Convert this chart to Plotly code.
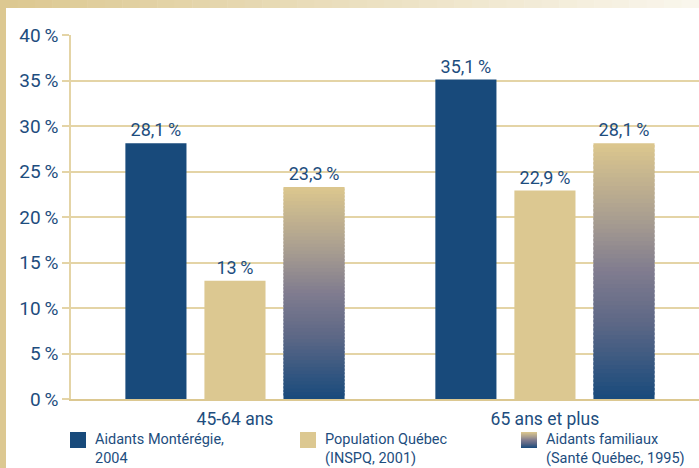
import plotly.graph_objects as go

# ---- data ----
categories = ["45-64 ans", "65 ans et plus"]
aidants_monteregie = [28.1, 35.1]
population_quebec = [13.0, 22.9]
aidants_familiaux = [23.3, 28.1]
series_names = ["Aidants Montérégie,<br>2004",
                "Population Québec<br>(INSPQ, 2001)",
                "Aidants familiaux<br>(Santé Québec, 1995)"]
y_ticks = [0, 5, 10, 15, 20, 25, 30, 35, 40]

# ---- styles ----
BLUE = "#184a7b"
TAN = "#dcc891"
TXT = "#1d4d7e"
GRID = "#e4d4a6"
FONT = "Roboto"

W, H = 699, 468
ML, MR, MT, MB = 71, 0, 35, 69
PW, PH = W - ML - MR, H - MT - MB


def px_x(px):
    return (px - ML) / PW


def px_y(py):
    return (H - MB - py) / PH


def lab(v):
    s = ("%.1f" % v).replace(".", ",")
    if s.endswith(",0"):
        s = s[:-2]
    return s + "\u2009%"


def lerp(c1, c2, t):
    return tuple(round(a + (b - a) * t) for a, b in zip(c1, c2))


# gradient stops (fraction from bottom -> color)
stops = [(0.0, (24, 74, 124)), (0.3, (94, 104, 134)), (0.5, (128, 124, 143)),
         (0.7, (168, 157, 144)), (1.0, (220, 199, 142))]


def grad(t):
    for (t0, c0), (t1, c1) in zip(stops[:-1], stops[1:]):
        if t <= t1:
            return "rgb(%d,%d,%d)" % lerp(c0, c1, (t - t0) / (t1 - t0))
    return "rgb(%d,%d,%d)" % stops[-1][1]


fig = go.Figure()
fig.add_bar(x=categories, y=aidants_monteregie, offsetgroup="a",
            marker=dict(color=BLUE, line=dict(width=0)),
            text=[lab(v) for v in aidants_monteregie], textposition="outside",
            cliponaxis=False, showlegend=False)
fig.add_bar(x=categories, y=population_quebec, offsetgroup="b",
            marker=dict(color=TAN, line=dict(width=0)),
            text=[lab(v) for v in population_quebec], textposition="outside",
            cliponaxis=False, showlegend=False)
N = 60
for i in range(N):
    last = i == N - 1
    fig.add_bar(x=categories,
                base=[v * i / N for v in aidants_familiaux],
                y=[v / N * (1.0 if last else 1.6) for v in aidants_familiaux],
                offsetgroup="c",
                marker=dict(color=grad((i + 0.5) / N), line=dict(width=0)),
                text=[lab(v) for v in aidants_familiaux] if last else None,
                textposition="outside" if last else "none",
                cliponaxis=False, showlegend=False)

fig.update_traces(textfont=dict(color=TXT, size=18, family=FONT))

shapes = []
# left strip
shapes.append(dict(type="rect", xref="paper", yref="paper",
                   x0=px_x(0), x1=px_x(6), y0=px_y(H), y1=px_y(0),
                   fillcolor=TAN, line=dict(width=0), layer="below"))
# top gradient strip
NS = 40
for k in range(NS):
    t = k / NS
    c = lerp((220, 200, 145), (250, 247, 238), t)
    shapes.append(dict(type="rect", xref="paper", yref="paper",
                       x0=px_x(W * k / NS), x1=px_x(W * (k + 1) / NS + 0.5),
                       y0=px_y(8), y1=px_y(0),
                       fillcolor="rgb(%d,%d,%d)" % c, line=dict(width=0), layer="below"))

# legend
leg_sq_x = [70, 300, 521]
leg_colors = [BLUE, TAN, None]
annotations = []
for j, (sx, col, name) in enumerate(zip(leg_sq_x, leg_colors, series_names)):
    if col is not None:
        shapes.append(dict(type="rect", xref="paper", yref="paper",
                           x0=px_x(sx), x1=px_x(sx + 16), y0=px_y(448), y1=px_y(432),
                           fillcolor=col, line=dict(width=0)))
    else:
        M = 16
        for k in range(M):
            shapes.append(dict(type="rect", xref="paper", yref="paper",
                               x0=px_x(sx), x1=px_x(sx + 16),
                               y0=px_y(448 - k), y1=px_y(447 - k),
                               fillcolor=grad((k + 0.5) / M), line=dict(width=0)))
    annotations.append(dict(xref="paper", yref="paper", x=px_x(sx + 23), y=px_y(429),
                            xanchor="left", yanchor="top", align="left",
                            text=name, showarrow=False,
                            font=dict(color=TXT, size=14.5, family=FONT)))

fig.update_layout(
    width=W, height=H,
    margin=dict(l=ML, r=MR, t=MT, b=MB),
    paper_bgcolor="white", plot_bgcolor="white",
    barmode="group", bargap=0.235, bargroupgap=0.227,
    showlegend=False,
    font=dict(family=FONT, color=TXT),
    shapes=shapes, annotations=annotations,
    xaxis=dict(range=[-0.529, 1.497], showgrid=False, showline=True,
               linecolor=TAN, linewidth=2, ticks="", tickfont=dict(size=17.5, color=TXT),
               ticklabelstandoff=3, fixedrange=True),
    yaxis=dict(range=[0, 40], tickvals=y_ticks, ticktext=[lab(v) for v in y_ticks],
               showgrid=True, gridcolor=GRID, gridwidth=1.5,
               showline=True, linecolor=GRID, linewidth=1.5,
               ticks="outside", ticklen=7, tickcolor=GRID, tickwidth=1.5,
               tickfont=dict(size=19, color=TXT), zeroline=False, fixedrange=True),
)

fig.write_html("out.html", config={"displayModeBar": False})

# remove the browser's default page margin so the figure fills the window
with open("out.html", encoding="utf-8") as f:
    html = f.read()
html = html.replace("<head>", "<head><style>html,body{margin:0;padding:0;overflow:hidden;}</style>", 1)
with open("out.html", "w", encoding="utf-8") as f:
    f.write(html)
